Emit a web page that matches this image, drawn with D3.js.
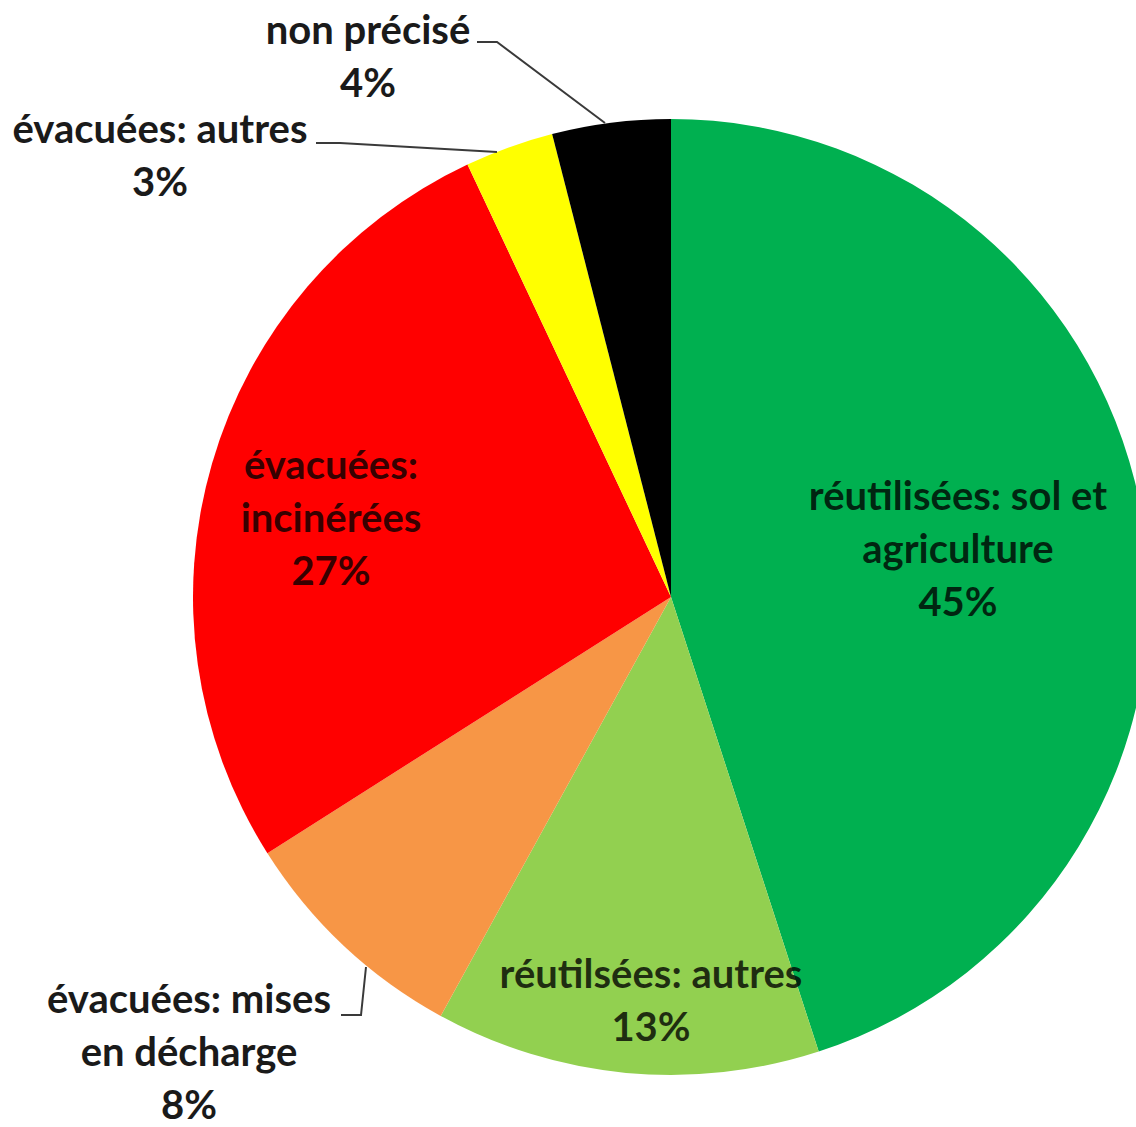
<!DOCTYPE html>
<html>
<head>
<meta charset="utf-8">
<script src="https://cdn.jsdelivr.net/npm/d3@7"></script>
<style>
  html, body { margin: 0; padding: 0; background: #fff; }
  svg { display: block; }
  text { font-family: Lato, "Open Sans", sans-serif; font-weight: 700; }
</style>
</head>
<body>
<svg id="chart" width="1136" height="1127"></svg>
<script>
// Destination of sludge, share in percent (clockwise from 12 o'clock)
const categories = [
  "réutilisées: sol et agriculture",
  "réutilsées: autres",
  "évacuées: mises en décharge",
  "évacuées: incinérées",
  "évacuées: autres",
  "non précisé"
];
const shares = [45, 13, 8, 27, 3, 4];
const sliceColors = ["#00b050", "#92d050", "#f79646", "#ff0000", "#ffff00", "#000000"];

// Label lines as drawn (text split over lines) and percentage text
const labelLines = [
  ["réutilisées: sol et", "agriculture"],
  ["réutilsées: autres"],
  ["évacuées: mises", "en décharge"],
  ["évacuées:", "incinérées"],
  ["évacuées: autres"],
  ["non précisé"]
];

// Layout: label anchor (centre x, first baseline) and leader polylines
const layout = {
  cx: 671, cy: 597, r: 478,
  lineGap: 53,
  fontSize: 40,
  labels: [
    { x: 958, y: 510, inside: true },
    { x: 651, y: 988, inside: true },
    { x: 189, y: 1013, inside: false },
    { x: 331, y: 479, inside: true },
    { x: 160, y: 143, inside: false },
    { x: 368, y: 44, inside: false }
  ],
  leaders: [
    null,
    null,
    [[341, 1015], [361, 1015], [366, 967]],
    null,
    [[316, 143], [340, 143], [497, 152]],
    [[477, 42], [497, 42], [605, 123]]
  ]
};

const svg = d3.select("#chart");
const g = svg.append("g").attr("transform", `translate(${layout.cx},${layout.cy})`);

const pie = d3.pie().sort(null).value(d => d).startAngle(0).endAngle(2 * Math.PI);
const arc = d3.arc().innerRadius(0).outerRadius(layout.r);
const arcs = pie(shares);

g.selectAll("path.slice")
  .data(arcs)
  .join("path")
  .attr("class", "slice")
  .attr("d", arc)
  .attr("fill", (d, i) => sliceColors[i]);

// Leader lines
const line = d3.line();
svg.selectAll("path.leader")
  .data(layout.leaders.filter(Boolean))
  .join("path")
  .attr("class", "leader")
  .attr("d", line)
  .attr("fill", "none")
  .attr("stroke", "#3a3a3a")
  .attr("stroke-width", 2);

// Labels: category lines followed by the percentage
const labelG = svg.selectAll("text.label")
  .data(arcs)
  .join("text")
  .attr("class", "label")
  .attr("text-anchor", "middle")
  .attr("font-size", layout.fontSize)
  .attr("fill", (d, i) => layout.labels[i].inside ? "#000" : "#1a1a1a")
  .attr("fill-opacity", (d, i) => layout.labels[i].inside ? 0.78 : 1);

labelG.each(function (d, i) {
  const t = d3.select(this);
  const pos = layout.labels[i];
  const lines = labelLines[i].concat([d3.format(".0f")(d.data) + "%"]);
  lines.forEach((s, k) => {
    t.append("tspan")
      .attr("x", pos.x)
      .attr("y", pos.y + k * layout.lineGap)
      .text(s);
  });
});
</script>
</body>
</html>
